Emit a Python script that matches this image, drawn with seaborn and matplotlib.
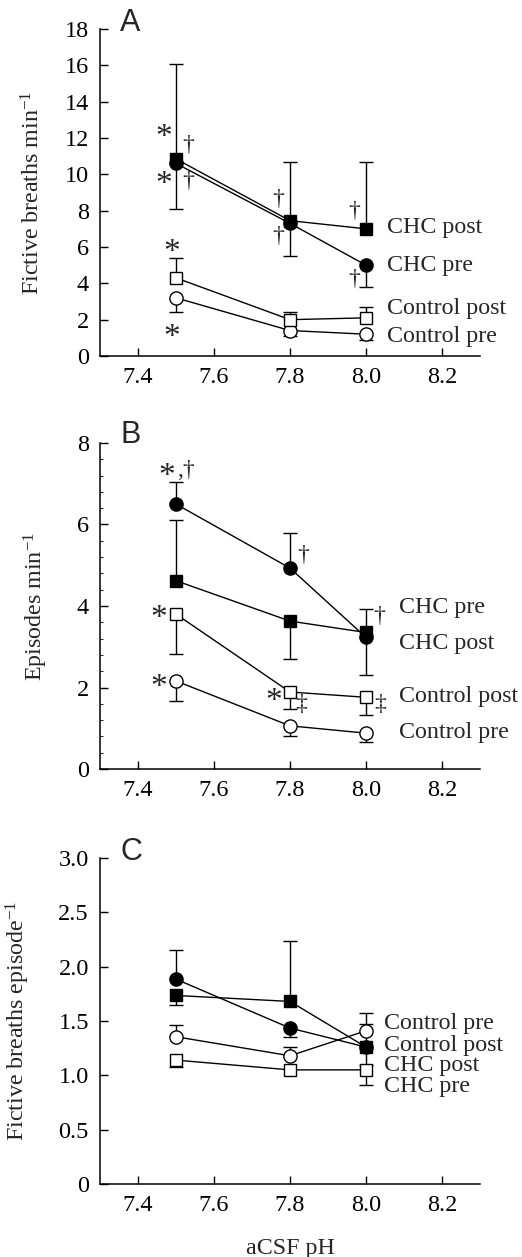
import numpy as np
import pandas as pd
import matplotlib
matplotlib.use("Agg")
import matplotlib.pyplot as plt
import seaborn as sns
from matplotlib.ticker import MultipleLocator

# ---------------- data ----------------
ph = [7.5, 7.8, 8.0]
series_names = ["CHC pre", "CHC post", "Control pre", "Control post"]

# Panel A: fictive breaths min-1
a_chc_pre = [10.6, 7.3, 5.0]
a_chc_post = [10.85, 7.45, 7.0]
a_ctl_pre = [3.2, 1.4, 1.2]
a_ctl_post = [4.3, 2.0, 2.1]
# error-bar end values (one-sided SEM bars)
a_chc_pre_err = [8.1, 5.5, 3.8]
a_chc_post_err = [16.1, 10.7, 10.7]
a_ctl_pre_err = [2.4, 1.1, 0.9]
a_ctl_post_err = [5.4, 2.4, 2.7]

# Panel B: episodes min-1
b_chc_pre = [6.5, 4.93, 3.23]
b_chc_post = [4.62, 3.63, 3.35]
b_ctl_pre = [2.16, 1.06, 0.88]
b_ctl_post = [3.8, 1.89, 1.76]
b_chc_pre_err = [7.05, 5.78, 2.3]
b_chc_post_err = [6.12, 2.7, 3.93]
b_ctl_pre_err = [1.66, 0.82, 0.67]
b_ctl_post_err = [2.83, 1.47, 1.33]

# Panel C: fictive breaths episode-1
c_chc_pre = [1.885, 1.435, 1.26]
c_chc_post = [1.735, 1.68, 1.26]
c_ctl_pre = [1.355, 1.18, 1.41]
c_ctl_post = [1.14, 1.05, 1.05]
c_chc_pre_err = [2.155, 1.35, 1.474]
c_chc_post_err = [1.643, 2.24, 1.096]
c_ctl_pre_err = [1.465, 1.265, 1.578]
c_ctl_post_err = [1.08, np.nan, 0.91]

# right-hand series labels
a_labels = ["CHC post", "CHC pre", "Control post", "Control pre"]
b_labels = ["CHC pre", "CHC post", "Control post", "Control pre"]
c_labels = ["Control pre", "Control post", "CHC post", "CHC pre"]

x_ticks = [7.4, 7.6, 7.8, 8.0, 8.2]
x_tick_labels = ["7.4", "7.6", "7.8", "8.0", "8.2"]
a_yticks = list(range(0, 19, 2))
b_yticks = [0, 2, 4, 6, 8]
c_yticks = [0, 0.5, 1.0, 1.5, 2.0, 2.5, 3.0]
c_ytick_labels = ["0", "0.5", "1.0", "1.5", "2.0", "2.5", "3.0"]

# ---------------- style ----------------
sns.set_theme(style="ticks")
plt.rcParams["font.family"] = ["Liberation Serif", "DejaVu Serif"]
plt.rcParams["mathtext.fontset"] = "custom"
plt.rcParams["mathtext.rm"] = "Liberation Serif"
plt.rcParams["mathtext.it"] = "Liberation Serif:italic"
plt.rcParams["axes.linewidth"] = 1.1
plt.rcParams["axes.edgecolor"] = "black"

FS = 17.3
TFS = 17.5
AST = 24
DAG = 17
styles = {
    "CHC pre": dict(marker="o", mfc="black", ms=9.5),
    "CHC post": dict(marker="s", mfc="black", ms=8.5),
    "Control pre": dict(marker="o", mfc="white", ms=9.5),
    "Control post": dict(marker="s", mfc="white", ms=8.5),
}

fig = plt.figure(figsize=(5.22, 12.57), dpi=100)
ax_pos = {
    "A": [0.1916, 0.7168, 0.7279, 0.2601],
    "B": [0.1916, 0.3882, 0.7279, 0.2594],
    "C": [0.1916, 0.0581, 0.7279, 0.2593],
}


def draw_panel(ax, vals, errs):
    for name in series_names:
        y = vals[name]
        e = errs[name]
        xs = [x for x, v in zip(ph, e) if not np.isnan(v)]
        y0 = [yy for yy, v in zip(y, e) if not np.isnan(v)]
        y1 = [v for v in e if not np.isnan(v)]
        ax.vlines(xs, y0, y1, color="black", lw=1.0, zorder=1.5)
        ax.plot(xs, y1, ls="none", marker="_", ms=10, mew=1.0, color="black", zorder=1.5)
    for name in series_names:
        st = styles[name]
        df = pd.DataFrame({"pH": ph, "v": vals[name]})
        sns.lineplot(data=df, x="pH", y="v", ax=ax, color="black", lw=1.0,
                     marker=st["marker"], markersize=st["ms"], markerfacecolor=st["mfc"],
                     markeredgecolor="black", markeredgewidth=1.0, zorder=3)


def style_axes(ax, yticks, ylabels, ylim, ylabel, letter, letter_y):
    ax.set_xlim(7.3, 8.3)
    ax.set_ylim(*ylim)
    ax.set_xticks(x_ticks)
    ax.set_xticklabels(x_tick_labels, fontsize=TFS)
    ax.set_yticks(yticks)
    ax.set_yticklabels(ylabels, fontsize=TFS)
    ax.tick_params(direction="in", length=6, width=1.0, pad=8, colors="black")
    sns.despine(ax=ax)
    ax.set_xlabel("")
    ax.set_ylabel(ylabel, fontsize=FS)
    ax.text(0.053, letter_y, letter, transform=ax.transAxes, fontsize=22,
            family="Liberation Sans", va="baseline", ha="left")


# ---------------- Panel A ----------------
axA = fig.add_axes(ax_pos["A"])
draw_panel(axA,
           {"CHC pre": a_chc_pre, "CHC post": a_chc_post, "Control pre": a_ctl_pre, "Control post": a_ctl_post},
           {"CHC pre": a_chc_pre_err, "CHC post": a_chc_post_err, "Control pre": a_ctl_pre_err, "Control post": a_ctl_post_err})
style_axes(axA, a_yticks, [str(t) for t in a_yticks], (0, 18), r"Fictive breaths min$^{-1}$", "A", 0.994)
axA.yaxis.set_label_coords(-0.145, 0.5)
for lab, yy in zip(a_labels, [7.08, 5.0, 2.6, 1.07]):
    axA.text(8.055, yy, lab, fontsize=FS, va="center", ha="left")
for s, x, y in [("*", 7.468, 12.0), ("*", 7.468, 9.4), ("*", 7.49, 5.7), ("*", 7.49, 1.0)]:
    axA.text(x, y, s, fontsize=AST, ha="center", va="center")
for s, x, y in [("†", 7.532, 11.6), ("†", 7.532, 9.6), ("†", 7.77, 8.6), ("†", 7.77, 6.6),
                ("†", 7.97, 7.96), ("†", 7.97, 4.2)]:
    axA.text(x, y, s, fontsize=DAG, ha="center", va="center")

# ---------------- Panel B ----------------
axB = fig.add_axes(ax_pos["B"])
draw_panel(axB,
           {"CHC pre": b_chc_pre, "CHC post": b_chc_post, "Control pre": b_ctl_pre, "Control post": b_ctl_post},
           {"CHC pre": b_chc_pre_err, "CHC post": b_chc_post_err, "Control pre": b_ctl_pre_err, "Control post": b_ctl_post_err})
style_axes(axB, b_yticks, [str(t) for t in b_yticks], (0, 8), r"Episodes min$^{-1}$", "B", 1.0)
axB.yaxis.set_minor_locator(MultipleLocator(0.4))
axB.tick_params(axis="y", which="minor", direction="in", length=2.5, width=0.8)
axB.yaxis.set_label_coords(-0.132, 0.5)
for lab, yy in zip(b_labels, [3.97, 3.09, 1.78, 0.9]):
    axB.text(8.087, yy, lab, fontsize=FS, va="center", ha="left")
axB.text(7.475, 7.18, "*", fontsize=AST, ha="center", va="center")
axB.text(7.525, 7.33, ",†", fontsize=DAG, ha="center", va="center")
for s, x, y in [("*", 7.455, 3.68), ("*", 7.455, 2.0), ("*", 7.756, 1.65)]:
    axB.text(x, y, s, fontsize=AST, ha="center", va="center")
for s, x, y in [("†", 7.834, 5.25), ("†", 8.034, 3.74), ("‡", 7.83, 1.58), ("‡", 8.037, 1.58)]:
    axB.text(x, y, s, fontsize=DAG, ha="center", va="center")

# ---------------- Panel C ----------------
axC = fig.add_axes(ax_pos["C"])
draw_panel(axC,
           {"CHC pre": c_chc_pre, "CHC post": c_chc_post, "Control pre": c_ctl_pre, "Control post": c_ctl_post},
           {"CHC pre": c_chc_pre_err, "CHC post": c_chc_post_err, "Control pre": c_ctl_pre_err, "Control post": c_ctl_post_err})
style_axes(axC, c_yticks, c_ytick_labels, (0, 3.0), r"Fictive breaths episode$^{-1}$", "C", 0.994)
axC.yaxis.set_label_coords(-0.179, 0.5)
axC.set_xlabel("aCSF pH", fontsize=FS, labelpad=16)
for lab, yy in zip(c_labels, [1.474, 1.277, 1.087, 0.897]):
    axC.text(8.047, yy, lab, fontsize=FS, va="center", ha="left")

fig.savefig("out.png", dpi=100)
